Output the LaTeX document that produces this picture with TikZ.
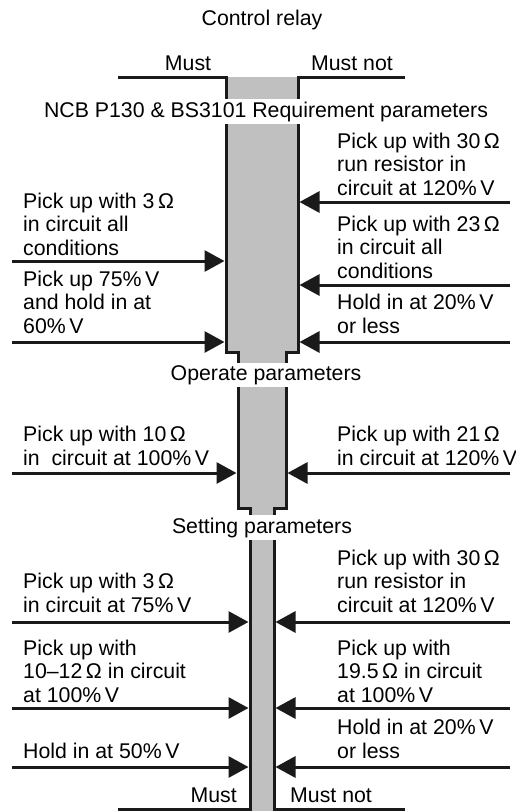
\documentclass[tikz,border=0pt]{standalone}
\usepackage{fontspec}
\setmainfont{Liberation Sans}
\usetikzlibrary{arrows.meta}
\definecolor{colfill}{HTML}{C0C0C0}
\definecolor{ink}{HTML}{1A1A1A}
\begin{document}
\begin{tikzpicture}[x=1pt,y=-1pt,
 every node/.style={font=\fontsize{21.3}{23.3}\selectfont, inner sep=0pt},
 lab/.style={anchor=base west, align=left},
 capbox/.style={anchor=base, fill=white, inner xsep=2pt, inner ysep=2.5pt},
 arr/.style={draw=ink, line width=3pt, -{Triangle[length=20pt,width=21pt]}},
 outline/.style={draw=ink, line width=3pt, line join=miter}
]
\useasboundingbox (0,0) rectangle (516,811);
% column fill
\fill[colfill] (226,77) -- (226,352) -- (238,352) -- (238,508) -- (250,508) -- (250,811)
  -- (274,811) -- (274,508) -- (286,508) -- (286,352) -- (298,352) -- (298,77) -- cycle;
% column outline
\draw[outline] (118,77) -- (226,77) -- (226,352) -- (238,352) -- (238,508) -- (250,508) -- (250,809) -- (118,809);
\draw[outline] (405,77) -- (298,77) -- (298,352) -- (286,352) -- (286,508) -- (274,508) -- (274,809) -- (405,809);

% edge coordinates
\coordinate (LS) at (12,0);
\coordinate (RS) at (510,0);
\coordinate (TL) at (224.5,0);
\coordinate (TR) at (299.5,0);
\coordinate (ML) at (236.5,0);
\coordinate (MR) at (287.5,0);
\coordinate (BL) at (248.5,0);
\coordinate (BR) at (275.5,0);

% titles
\node[anchor=base] (title) at (262,25) {Control relay};
\node[anchor=base] (must1) at (188,70) {Must};
\node[anchor=base] (mustnot1) at (352,70) {Must not};
\node[capbox] (ncb) at (266,117) {NCB P130 \& BS3101 Requirement parameters};
\node[capbox] (oper) at (266,380) {Operate parameters};
\node[capbox] (sett) at (262,533) {Setting parameters};
\node[anchor=base east] (must2) at (237,802) {Must};
\node[anchor=base west] (mustnot2) at (290,802) {Must not};

% top section (anchor = baseline of last line)
\node[lab] (r1) at (337,195) {Pick up with 30\,Ω\\run resistor in\\circuit at 120\%\,V};
\node[lab] (l1) at (23,255) {Pick up with 3\,Ω\\in circuit all\\conditions};
\node[lab] (r2) at (337,278) {Pick up with 23\,Ω\\in circuit all\\conditions};
\node[lab] (l2) at (23,333) {Pick up 75\%\,V\\and hold in at\\60\%\,V};
\node[lab] (r3) at (337,333) {Hold in at 20\%\,V\\or less};
\coordinate (ar1) at (0,202);
\coordinate (al1) at (0,261);
\coordinate (ar2) at (0,285);
\coordinate (al2) at (0,342);
\coordinate (ar3) at (0,342);
\draw[arr] (ar1 -| RS) -- (ar1 -| TR);
\draw[arr] (al1 -| LS) -- (al1 -| TL);
\draw[arr] (ar2 -| RS) -- (ar2 -| TR);
\draw[arr] (al2 -| LS) -- (al2 -| TL);
\draw[arr] (ar3 -| RS) -- (ar3 -| TR);

% middle section
\node[lab] (l3) at (23,465) {Pick up with 10\,Ω\\in~~circuit at 100\%\,V};
\node[lab] (r4) at (337,465) {Pick up with 21\,Ω\\in circuit at 120\%\,V};
\coordinate (am) at (0,473);
\draw[arr] (am -| LS) -- (am -| ML);
\draw[arr] (am -| RS) -- (am -| MR);

% bottom section
\node[lab] (r5) at (337,612) {Pick up with 30\,Ω\\run resistor in\\circuit at 120\%\,V};
\node[lab] (l4) at (23,612) {Pick up with 3\,Ω\\in circuit at 75\%\,V};
\node[lab] (l5) at (23,702) {Pick up with\\10–12\,Ω in circuit\\at 100\%\,V};
\node[lab] (r6) at (337,702) {Pick up with\\19.5\,Ω in circuit\\at 100\%\,V};
\node[lab] (r7) at (337,758) {Hold in at 20\%\,V\\or less};
\node[lab] (l6) at (23,758) {Hold in at 50\%\,V};
\coordinate (ab1) at (0,622);
\coordinate (ab2) at (0,708);
\coordinate (ab3) at (0,767);
\draw[arr] (ab1 -| LS) -- (ab1 -| BL);
\draw[arr] (ab1 -| RS) -- (ab1 -| BR);
\draw[arr] (ab2 -| LS) -- (ab2 -| BL);
\draw[arr] (ab2 -| RS) -- (ab2 -| BR);
\draw[arr] (ab3 -| LS) -- (ab3 -| BL);
\draw[arr] (ab3 -| RS) -- (ab3 -| BR);
\end{tikzpicture}
\end{document}
